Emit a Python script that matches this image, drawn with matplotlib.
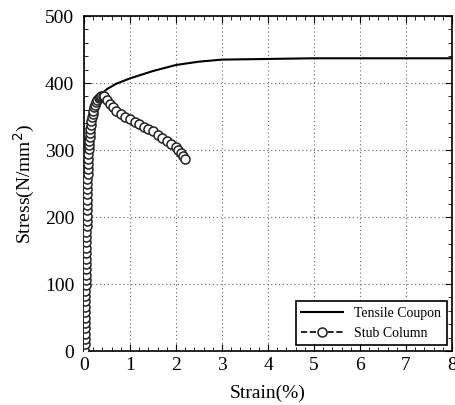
import matplotlib
matplotlib.use('Agg')
import matplotlib.pyplot as plt
from matplotlib.ticker import MultipleLocator

plt.rcParams['font.family'] = ['Liberation Serif', 'DejaVu Serif']

# tensile coupon curve
coupon_strain = [0.0, 0.02, 0.04, 0.06, 0.08, 0.10, 0.15, 0.20, 0.30, 0.40, 0.50,
                 0.70, 1.00, 1.50, 2.00, 2.50, 3.00, 4.00, 5.00, 6.00, 7.00, 8.00]
coupon_stress = [0, 90, 180, 250, 295, 320, 345, 360, 375, 385, 391,
                 399, 407, 418, 427, 432, 435, 436, 437, 437, 437, 437]

# stub column curve (ascending + descending branch)
stub_strain = [0.010, 0.012, 0.014, 0.016, 0.018, 0.020, 0.022, 0.024, 0.026, 0.028,
               0.030, 0.032, 0.034, 0.036, 0.038, 0.040, 0.042, 0.044, 0.046, 0.048,
               0.050, 0.052, 0.054, 0.056, 0.058, 0.060, 0.062, 0.064, 0.066, 0.068,
               0.070, 0.072, 0.075, 0.078, 0.081, 0.085, 0.090, 0.095, 0.100, 0.106,
               0.112, 0.120, 0.128, 0.137, 0.147, 0.158, 0.170, 0.185, 0.200, 0.220,
               0.240, 0.265, 0.290, 0.320, 0.350, 0.380, 0.410, 0.440,
               0.50, 0.56, 0.63, 0.70, 0.80, 0.90,
               1.00, 1.10, 1.20, 1.30, 1.40, 1.50, 1.60, 1.70, 1.80, 1.90,
               2.00, 2.05, 2.10, 2.15, 2.20]
stub_stress = [2, 10, 18, 26, 34, 42, 50, 58, 66, 74,
               82, 90, 98, 106, 114, 122, 130, 138, 146, 154,
               162, 170, 178, 186, 194, 202, 210, 218, 226, 234,
               242, 249, 257, 264, 271, 279, 287, 294, 301, 308,
               314, 320, 326, 332, 338, 344, 349, 354, 359, 364,
               368, 372, 375, 377, 379, 380, 381, 380,
               374, 369, 364, 359, 354, 349,
               346, 342, 339, 335, 331, 328, 323, 318, 313, 309,
               304, 300, 296, 291, 287]

fig = plt.figure(figsize=(4.55, 4.05), dpi=100)
ax = fig.add_axes([0.1846, 0.1333, 0.809, 0.827])

ax.plot(coupon_strain, coupon_stress, color='black', linewidth=1.5,
        label='Tensile Coupon', zorder=3)
ax.plot(stub_strain, stub_stress, color='black', linewidth=1.2, linestyle='--',
        marker='o', markersize=6.5, markerfacecolor='white', markeredgecolor='#222222',
        markeredgewidth=1.1, label='Stub Column', zorder=4)

ax.set_xlim(0, 8)
ax.set_ylim(0, 500)
ax.xaxis.set_major_locator(MultipleLocator(1))
ax.xaxis.set_minor_locator(MultipleLocator(0.2))
ax.yaxis.set_major_locator(MultipleLocator(100))
ax.yaxis.set_minor_locator(MultipleLocator(20))
ax.tick_params(which='both', direction='in', top=True, right=True, labelsize=14)
ax.tick_params(which='major', length=5)
ax.tick_params(which='minor', length=3)
ax.tick_params(axis='x', which='major', pad=4)
ax.tick_params(axis='y', which='major', pad=7)
ax.grid(True, which='major', linestyle=(0, (1, 2.5)), color='#666666', linewidth=0.8)

for s in ax.spines.values():
    s.set_linewidth(1.2)

ax.set_xlabel('Strain(%)', fontsize=14, labelpad=8)
ax.set_ylabel('Stress(N/mm$^2$)', fontsize=14, labelpad=6)

leg = ax.legend(loc='lower right', fontsize=10, frameon=True, fancybox=False,
                edgecolor='black', handlelength=3, borderaxespad=0.4)
leg.get_frame().set_linewidth(1.2)
leg.get_frame().set_alpha(1)

fig.savefig('out.png', dpi=100)
